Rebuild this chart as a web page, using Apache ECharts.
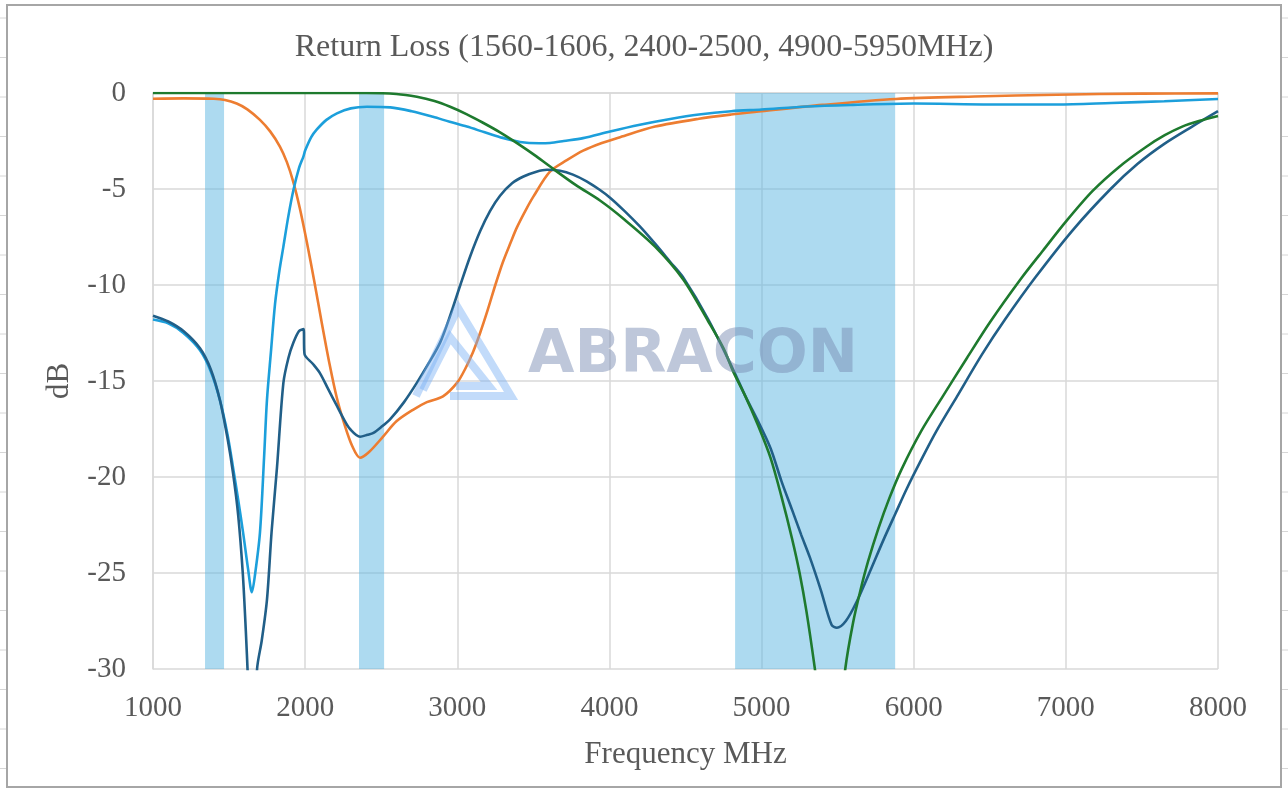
<!DOCTYPE html>
<html>
<head>
<meta charset="utf-8">
<script src="https://cdn.jsdelivr.net/npm/echarts@6/dist/echarts.min.js"></script>
<style>
html,body{margin:0;padding:0;background:#fff;}
#chart{width:1288px;height:792px;}
</style>
</head>
<body>
<div id="chart"></div>
<script>
// ---- Data (frequency in MHz, return loss in dB) ----
const xTicks = [1000, 2000, 3000, 4000, 5000, 6000, 7000, 8000];
const yTicks = [0, -5, -10, -15, -20, -25, -30];

const orangeFreq = [1000,1200,1400,1473,1550,1620,1703,1770,1835,1880,1921,1965,2012,2060,2110,2160,2209,2260,2310,2361,2420,2512,2600,2709,2800,2906,2998,3050,3103,3150,3200,3250,3300,3350,3392,3450,3500,3609,3720,3827,3950,4070,4300,4588,4800,5000,5400,5882,6400,6941,7500,8000];
const orangeDb   = [-0.30,-0.28,-0.30,-0.36,-0.55,-0.85,-1.4,-2.0,-2.8,-3.6,-4.6,-6.0,-7.8,-9.8,-12.0,-14.1,-15.9,-17.3,-18.4,-19.0,-18.7,-17.9,-17.1,-16.5,-16.1,-15.8,-15.1,-14.4,-13.5,-12.5,-11.3,-10.0,-8.8,-7.8,-7.0,-6.1,-5.4,-4.1,-3.5,-3.0,-2.6,-2.3,-1.75,-1.34,-1.12,-0.95,-0.62,-0.31,-0.18,-0.09,-0.03,-0.02];

const lightFreq = [1000,1100,1200,1309,1380,1440,1490,1526,1560,1594,1625,1650,1672,1703,1730,1749,1775,1802,1830,1857,1890,1923,1960,1989,2000,2040,2077,2140,2209,2300,2406,2560,2700,2840,2950,3063,3180,3281,3412,3540,3609,3700,3827,4004,4200,4400,4588,4800,5000,5300,5600,6000,6500,6941,7300,7647,8000];
const lightDb   = [-11.8,-12.0,-12.5,-13.4,-14.5,-16.0,-17.8,-19.5,-21.2,-23.0,-24.8,-26.0,-25.0,-22.9,-19.0,-16.0,-13.5,-11.0,-9.3,-8.0,-6.4,-5.05,-3.9,-3.3,-3.0,-2.3,-1.9,-1.4,-1.06,-0.8,-0.72,-0.75,-0.95,-1.24,-1.5,-1.75,-2.05,-2.3,-2.55,-2.62,-2.6,-2.5,-2.35,-2.0,-1.65,-1.35,-1.12,-0.95,-0.86,-0.7,-0.62,-0.55,-0.6,-0.6,-0.52,-0.43,-0.31];

const darkFreq = [1000,1100,1200,1309,1380,1440,1490,1526,1560,1590,1610,1624,1652,1684,1715,1749,1780,1815,1857,1890,1923,1960,1989,1996,2050,2098,2150,2209,2255,2295,2361,2410,2449,2500,2558,2650,2734,2810,2887,2953,3020,3085,3150,3215,3281,3360,3435,3520,3590,3675,3760,3850,3938,4004,4100,4200,4300,4400,4484,4650,4813,4894,4971,5059,5130,5200,5260,5318,5390,5460,5495,5554,5625,5719,5800,5880,5955,6050,6150,6285,6450,6600,6800,7050,7294,7470,7647,7830,8000];
const darkDb   = [-11.6,-11.9,-12.4,-13.3,-14.4,-16.0,-18.0,-19.8,-22.0,-25.0,-28.0,-30.5,-36.0,-30.0,-28.5,-26.4,-22.8,-19.5,-15.1,-13.8,-13.0,-12.4,-12.3,-13.6,-14.1,-14.6,-15.4,-16.3,-17.0,-17.5,-17.9,-17.8,-17.7,-17.4,-17.0,-16.1,-15.1,-14.1,-13.0,-11.6,-10.0,-8.5,-7.2,-6.15,-5.35,-4.7,-4.35,-4.1,-4.0,-4.05,-4.25,-4.6,-5.05,-5.45,-6.15,-6.95,-7.85,-8.8,-9.6,-11.8,-14.4,-15.8,-17.0,-18.5,-20.2,-21.7,-23.0,-24.2,-25.9,-27.7,-27.85,-27.5,-26.5,-24.8,-23.3,-21.9,-20.6,-19.1,-17.6,-15.8,-13.6,-11.8,-9.6,-7.1,-5.0,-3.7,-2.65,-1.75,-0.95];

const greenFreq = [1000,1500,2000,2400,2600,2734,2850,2953,3060,3169,3281,3400,3520,3630,3780,3938,4100,4300,4484,4650,4750,4813,4894,4971,5059,5130,5200,5250,5295,5347,5400,5450,5500,5550,5601,5650,5700,5767,5840,5920,6050,6191,6350,6500,6706,6850,7000,7176,7350,7529,7650,7765,7880,8000];
const greenDb   = [0,0,0,0,-0.05,-0.2,-0.42,-0.72,-1.1,-1.55,-2.05,-2.65,-3.3,-3.95,-4.8,-5.6,-6.6,-8.0,-9.7,-11.9,-13.3,-14.5,-15.8,-17.2,-19.0,-21.0,-23.2,-25.0,-27.0,-29.8,-33.0,-37.0,-34.0,-30.0,-27.6,-25.9,-24.4,-22.7,-21.1,-19.6,-17.6,-15.8,-13.8,-11.95,-9.66,-8.2,-6.7,-5.1,-3.85,-2.8,-2.2,-1.75,-1.45,-1.2];

const bandStart = [1342, 2354, 4826];
const bandEnd   = [1467, 2519, 5878];

const titleText = 'Return Loss (1560-1606, 2400-2500, 4900-5950MHz)';
const xName = 'Frequency MHz';
const yName = 'dB';

function pairs(xs, ys){ return xs.map((x,i)=>[x, ys[i]]); }

const serif = 'Liberation Serif';
const chart = echarts.init(document.getElementById('chart'), null, {renderer:'canvas'});

function lineSeries(name, xs, ys, color, z){
  return {
    name: name, type: 'line', data: pairs(xs, ys), showSymbol: false, symbol: 'none',
    smooth: 0.3, clip: true, z: z,
    lineStyle: {color: color, width: 2.6},
    itemStyle: {color: color}
  };
}

// spreadsheet margin lines (outside the chart frame)
const marginLines = [];
for (let y = 18; y < 792; y += 39.5) {
  marginLines.push({type:'line', shape:{x1:0,y1:y,x2:7,y2:y}, style:{stroke:'#d6d6d6', lineWidth:1}, silent:true});
  marginLines.push({type:'line', shape:{x1:1282,y1:y,x2:1288,y2:y}, style:{stroke:'#d6d6d6', lineWidth:1}, silent:true});
}

chart.setOption({
  animation: false,
  backgroundColor: '#ffffff',
  title: {
    text: titleText, left: 'center', top: 27,
    textStyle: {fontFamily: serif, fontSize: 32, fontWeight: 'normal', color: '#595959'}
  },
  grid: {left: 153, right: 70, top: 93, bottom: 123, containLabel: false},
  xAxis: {
    type: 'value', min: 1000, max: 8000, interval: 1000,
    name: xName, nameLocation: 'middle', nameGap: 70,
    nameTextStyle: {fontFamily: serif, fontSize: 31, color: '#595959'},
    axisLine: {show: true, lineStyle: {color: '#d9d9d9', width: 1.5}},
    axisTick: {show: false},
    axisLabel: {fontFamily: serif, fontSize: 29, color: '#595959', margin: 25,
      formatter: function(v){ return String(v); }},
    splitLine: {show: true, lineStyle: {color: '#d9d9d9', width: 1.5}}
  },
  yAxis: {
    type: 'value', min: -30, max: 0, interval: 5,
    name: yName, nameLocation: 'middle', nameGap: 78, nameRotate: 90,
    nameTextStyle: {fontFamily: serif, fontSize: 31, color: '#595959'},
    axisLine: {show: true, lineStyle: {color: '#d9d9d9', width: 1.5}},
    axisTick: {show: false},
    axisLabel: {fontFamily: serif, fontSize: 29, color: '#595959', margin: 27,
      formatter: function(v){ return String(v); }},
    splitLine: {show: true, lineStyle: {color: '#d9d9d9', width: 1.5}}
  },
  series: [
    lineSeries('Orange', orangeFreq, orangeDb, '#ED7D31', 2),
    lineSeries('Light blue', lightFreq, lightDb, '#1C9FDB', 3),
    lineSeries('Dark blue', darkFreq, darkDb, '#215F88', 4),
    lineSeries('Green', greenFreq, greenDb, '#1E7A2E', 5),
    {
      name: 'bands', type: 'line', data: [], z: 8, silent: true,
      markArea: {
        silent: true,
        itemStyle: {color: 'rgba(91,181,225,0.5)'},
        data: bandStart.map((s,i)=>[{xAxis: s}, {xAxis: bandEnd[i]}])
      }
    }
  ],
  graphic: [
    {type:'rect', shape:{x:7,y:5,width:1274,height:782}, style:{fill:'none', stroke:'#a6a6a6', lineWidth:2}, z: 1, silent:true},
    ...marginLines,
    {type:'polyline', shape:{points:[[416,396],[458,308],[511,396],[450,396]]}, style:{stroke:'rgba(120,175,245,0.45)', lineWidth:8, fill:'none', lineJoin:'miter'}, z: 20, silent:true},
    {type:'polyline', shape:{points:[[423,390],[450,337],[489,386],[456,386]]}, style:{stroke:'rgba(120,175,245,0.45)', lineWidth:8, fill:'none', lineJoin:'miter'}, z: 20, silent:true},
    {type:'text', left: 528, top: 326, z: 20, silent:true,
      style:{text:'ABRACON', fontFamily:'DejaVu Sans', fontWeight:'bold', fontSize:60, fill:'rgba(120,138,178,0.48)'}}
  ]
});
</script>
</body>
</html>
